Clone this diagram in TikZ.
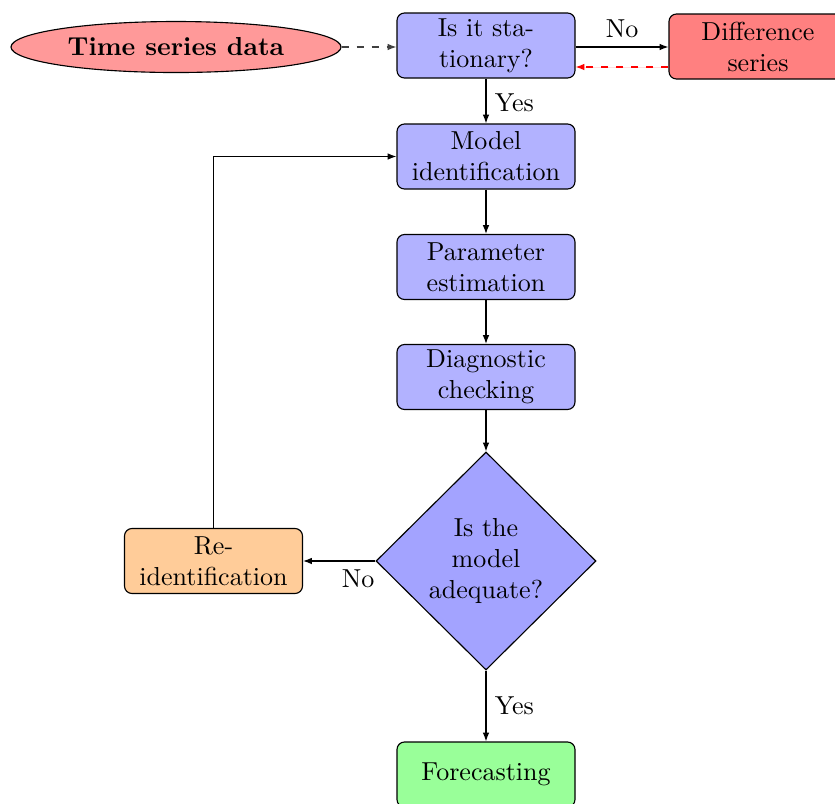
\documentclass[tikz,border=0pt]{standalone}
\usetikzlibrary{shapes.geometric,arrows.meta}
\begin{document}
\begin{tikzpicture}[x=0.4pt,y=-0.4pt,
  font=\fontsize{10.4}{12.4}\selectfont,
  line width=0.45pt,
  box/.style={draw,rounded corners=3pt,align=center,minimum width=71.2pt,minimum height=26pt,inner sep=2pt,fill=blue!30},
  arr/.style={-{Latex[length=3.5pt,width=2.6pt]}},
  lbl/.style={inner sep=3.3pt}]
\useasboundingbox (0,0) rectangle (835,803);
\node[draw,ellipse,fill=red!40,minimum width=132pt,minimum height=20.4pt,inner sep=0pt,font=\fontsize{10.4}{12.4}\selectfont\bfseries] (data) at (176,47) {Time series data};
\node[box] (stat) at (486,45.5) {Is it sta-\\tionary?};
\node[box,fill=red!50] (diff) at (758,46.5) {Difference\\series};
\node[box] (ident) at (486,156.5) {Model\\identification};
\node[box] (param) at (486,267) {Parameter\\estimation};
\node[box] (diag) at (486,377) {Diagnostic\\checking};
\node[draw,diamond,aspect=1,fill=blue!36,minimum width=88pt,minimum height=87.2pt,inner sep=0pt,align=center] (adeq) at (486,561) {Is the\\model\\adequate?};
\node[box,fill=orange!40] (reid) at (213.5,561) {Re-\\identification};
\node[box,fill=green!40] (fore) at (486,774.5) {Forecasting};
\draw[arr,dashed,black!75] (data.east) -- (stat.west|-data.east);
\draw[arr] (stat.east|-0,47) -- node[lbl,above] {No} (diff.west|-0,47);
\draw[arr,dashed,draw=red,fill=red] (diff.west|-0,67) -- (stat.east|-0,67);
\draw[arr] (stat) -- node[lbl,right,pos=0.55] {Yes} (ident);
\draw[arr] (ident) -- (param);
\draw[arr] (param) -- (diag);
\draw[arr] (diag) -- (adeq);
\draw[arr] (adeq.west) -- node[lbl,below,pos=0.24] {No} (reid.east);
\draw[arr] (reid.north) |- (ident.west);
\draw[arr] (adeq.south) -- node[lbl,right,pos=0.5] {Yes} (fore.north);
\end{tikzpicture}
\end{document}
